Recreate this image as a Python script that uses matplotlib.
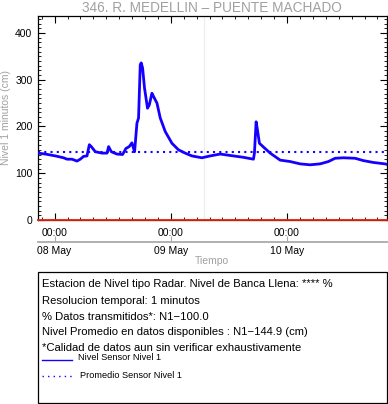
import numpy as np
import pandas as pd
import matplotlib
matplotlib.use('Agg')
import matplotlib.pyplot as plt
import matplotlib.dates as mdates
from matplotlib.lines import Line2D
from matplotlib.patches import Rectangle

plt.rcParams['font.family'] = ['Liberation Sans', 'DejaVu Sans']

# datos (nivel en cm)
tiempos = ['2019-05-07 20:34', '2019-05-07 22:05', '2019-05-08 00:09', '2019-05-08 01:51',
           '2019-05-08 02:34', '2019-05-08 03:35', '2019-05-08 04:37', '2019-05-08 05:18',
           '2019-05-08 05:59', '2019-05-08 06:41', '2019-05-08 07:10', '2019-05-08 07:34',
           '2019-05-08 08:24', '2019-05-08 09:47', '2019-05-08 10:49', '2019-05-08 11:09',
           '2019-05-08 11:42', '2019-05-08 12:52', '2019-05-08 14:02', '2019-05-08 14:44',
           '2019-05-08 15:25', '2019-05-08 15:58', '2019-05-08 16:23', '2019-05-08 16:31',
           '2019-05-08 17:00', '2019-05-08 17:20', '2019-05-08 17:41', '2019-05-08 17:53',
           '2019-05-08 18:10', '2019-05-08 18:34', '2019-05-08 19:11', '2019-05-08 19:33',
           '2019-05-08 20:06', '2019-05-08 20:26', '2019-05-08 21:08', '2019-05-08 21:49',
           '2019-05-08 22:51', '2019-05-09 00:14', '2019-05-09 01:35', '2019-05-09 02:58',
           '2019-05-09 04:21', '2019-05-09 06:25', '2019-05-09 08:08', '2019-05-09 10:12',
           '2019-05-09 12:56', '2019-05-09 15:00', '2019-05-09 17:04', '2019-05-09 17:16',
           '2019-05-09 17:37', '2019-05-09 17:53', '2019-05-09 18:18', '2019-05-09 19:08',
           '2019-05-09 20:31', '2019-05-09 22:35', '2019-05-10 00:38', '2019-05-10 02:42',
           '2019-05-10 04:46', '2019-05-10 06:50', '2019-05-10 08:33', '2019-05-10 09:56',
           '2019-05-10 11:38', '2019-05-10 14:03', '2019-05-10 15:46', '2019-05-10 17:50',
           '2019-05-10 20:14', '2019-05-10 20:35']
nivel = [143, 141, 137, 133,
         130, 130, 126, 130,
         136, 137, 161, 157,
         146, 143, 143, 157,
         146, 141, 140, 153,
         157, 165, 150, 146,
         207, 218, 332, 336,
         325, 282, 239, 246,
         271, 264, 250, 218,
         189, 164, 150, 143,
         137, 133, 137, 141,
         137, 134, 130, 143,
         210, 193, 164, 156,
         143, 128, 125, 120,
         118, 120, 125, 132,
         133, 132, 127, 123,
         120, 119]
promedio = 144.9
inicio = '2019-05-07 20:34'
fin = '2019-05-10 20:35'
marca = '2019-05-09 06:45'

t = mdates.date2num(pd.to_datetime(tiempos))
t0 = mdates.date2num(pd.Timestamp(inicio))
t1 = mdates.date2num(pd.Timestamp(fin))

W, H = 388, 404
fig = plt.figure(figsize=(W / 100, H / 100), dpi=100)
ax = fig.add_axes([38 / W, 1 - 220 / H, (386.7 - 38) / W, (220 - 15.7) / H])

ax.axvline(mdates.date2num(pd.Timestamp(marca)), color='#ececec', lw=0.8, zorder=0)
ax.plot(t, nivel, color='#1500ff', lw=2.0, zorder=3)
ax.axhline(promedio, color='#1500ff', lw=1.5, linestyle=(0, (1, 2)), zorder=2)
ax.axhline(0, color='#e8200c', lw=1.3, zorder=4, clip_on=False)

ax.set_xlim(t0, t1)
ax.set_ylim(0, max(nivel) * 1.3)

ax.xaxis.set_major_locator(mdates.DayLocator())
ax.xaxis.set_major_formatter(mdates.DateFormatter('%H:%M'))
dia0 = mdates.date2num(pd.Timestamp('2019-05-07'))
ax.xaxis.set_minor_locator(plt.FixedLocator(np.arange(dia0, t1, 160 / 1440)))
ax.yaxis.set_major_locator(plt.MultipleLocator(100))
ax.yaxis.set_minor_locator(plt.MultipleLocator(10))

ax.tick_params(which='both', direction='in', top=True, right=True, labelsize=7.5, pad=4)
ax.tick_params(which='major', length=5, width=0.8)
ax.tick_params(which='minor', length=2.5, width=0.6)
ax.tick_params(axis='x', pad=6)
for s in ax.spines.values():
    s.set_linewidth(0.9)

ax.set_ylabel('Nivel 1 minutos (cm)', color='#a0a0a0', fontsize=7.5)
ax.yaxis.set_label_coords(-0.077, 0.5)
ax.set_title('346. R. MEDELLIN \u2013 PUENTE MACHADO', color='#a0a0a0', fontsize=9.8, pad=3)

# segundo eje con las fechas
sec = ax.secondary_xaxis(-0.108)
sec.xaxis.set_major_locator(mdates.DayLocator())
sec.xaxis.set_major_formatter(mdates.DateFormatter('%d %b'))
sec.xaxis.set_minor_locator(plt.NullLocator())
sec.spines['bottom'].set_color('#aaaaaa')
sec.spines['bottom'].set_linewidth(1.3)
sec.tick_params(direction='in', length=4, color='#aaaaaa', labelsize=7.5, pad=3)
sec.set_xlabel('Tiempo', color='#a0a0a0', fontsize=7.5, labelpad=0)

# recuadro de informacion
fig.patches.append(Rectangle((38 / W, 0.002), (386.7 - 38) / W, (403.3 - 272.3) / H,
                             transform=fig.transFigure, fill=False, ec='black', lw=0.9))
lineas = ['Estacion de Nivel tipo Radar. Nivel de Banca Llena: **** %',
          'Resolucion temporal: 1 minutos',
          '% Datos transmitidos*: N1\u2212100.0',
          'Nivel Promedio en datos disponibles : N1\u2212144.9 (cm)',
          '*Calidad de datos aun sin verificar exhaustivamente']
ys = [284.3, 300.7, 316.7, 332.3, 348.3]
for txt, y in zip(lineas, ys):
    fig.text(42 / W, 1 - y / H, txt, fontsize=8.1, va='center', ha='left')

fig.lines.append(Line2D([42 / W, 72 / W], [1 - 360 / H] * 2, transform=fig.transFigure,
                        color='#1500ff', lw=1.0))
fig.text(78 / W, 1 - 358 / H, 'Nivel Sensor Nivel 1', fontsize=6.6, va='center')
fig.lines.append(Line2D([42 / W, 72 / W], [1 - 376 / H] * 2, transform=fig.transFigure,
                        color='#1500ff', lw=1.0, linestyle=(0, (1, 3))))
fig.text(80 / W, 1 - 375 / H, 'Promedio Sensor Nivel 1', fontsize=6.6, va='center')

fig.savefig('out.png', dpi=100)
